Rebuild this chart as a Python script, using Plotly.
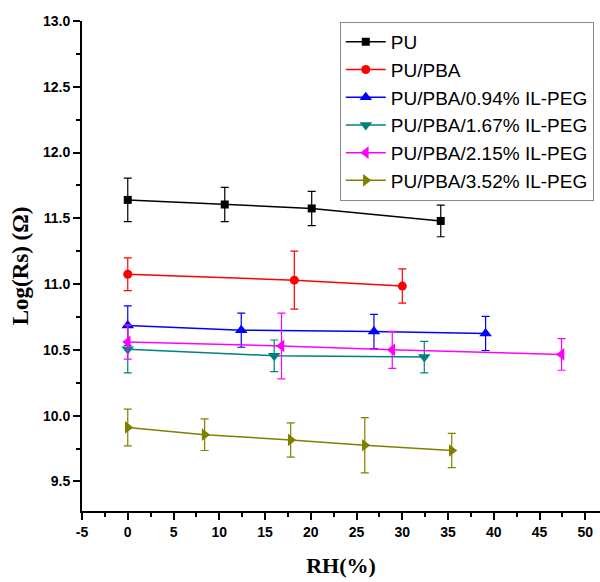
import plotly.graph_objects as go

# ---- data ----
names = ["PU", "PU/PBA", "PU/PBA/0.94% IL-PEG", "PU/PBA/1.67% IL-PEG",
         "PU/PBA/2.15% IL-PEG", "PU/PBA/3.52% IL-PEG"]

pu_x = [0, 10.6, 20.1, 34.2]
pu_y = [11.64, 11.605, 11.575, 11.48]
pu_e = [0.165, 0.13, 0.13, 0.12]

pba_x = [0, 18.2, 30.0]
pba_y = [11.075, 11.03, 10.985]
pba_e = [0.125, 0.22, 0.13]

p094_x = [0, 12.4, 26.9, 39.1]
p094_y = [10.685, 10.65, 10.64, 10.625]
p094_e = [0.15, 0.13, 0.13, 0.13]

p167_x = [0, 16.0, 32.4]
p167_y = [10.505, 10.455, 10.445]
p167_e = [0.18, 0.12, 0.12]

p215_x = [0, 16.8, 28.9, 47.4]
p215_y = [10.56, 10.53, 10.50, 10.465]
p215_e = [0.13, 0.25, 0.14, 0.12]

p352_x = [0, 8.4, 17.8, 25.9, 35.4]
p352_y = [9.91, 9.855, 9.815, 9.775, 9.735]
p352_e = [0.14, 0.12, 0.13, 0.21, 0.13]

series = [
    (pu_x, pu_y, pu_e, "#000000", "square", 8),
    (pba_x, pba_y, pba_e, "#FF0000", "circle", 9),
    (p094_x, p094_y, p094_e, "#0000FF", "triangle-up", 11),
    (p167_x, p167_y, p167_e, "#008080", "triangle-down", 11),
    (p215_x, p215_y, p215_e, "#FF00FF", "triangle-left", 11),
    (p352_x, p352_y, p352_e, "#808000", "triangle-right", 11),
]

x_ticks = list(range(-5, 51, 5))
y_ticks = [9.5, 10.0, 10.5, 11.0, 11.5, 12.0, 12.5, 13.0]
x_range = [-5, 51.6]
y_range = [9.275, 13.0]

fig = go.Figure()
for name, (xs, ys, es, col, sym, sz) in zip(names, series):
    fig.add_trace(go.Scatter(
        x=xs, y=ys, name=name, mode="lines+markers",
        line=dict(color=col, width=1.5),
        marker=dict(symbol=sym, size=sz, color=col),
        error_y=dict(type="data", array=es, visible=True, color=col,
                     thickness=1.2, width=4),
    ))

tickfont = dict(family="Liberation Sans, Arial", size=14, color="#000", weight="bold")
xtitlefont = dict(family="Liberation Serif, Times New Roman", size=22, color="#000", weight="bold")
ytitlefont = dict(family="Liberation Serif, Times New Roman", size=23, color="#000", weight="bold")

fig.update_layout(
    width=600, height=582,
    margin=dict(l=82, r=0, t=21, b=71),
    paper_bgcolor="white", plot_bgcolor="white",
    showlegend=True,
    legend=dict(
        x=0.988, y=0.998, xanchor="right", yanchor="top",
        bgcolor="white", bordercolor="#8a8a8a", borderwidth=1,
        font=dict(family="Liberation Sans, Arial", size=19, color="#000"),
        tracegroupgap=0, itemwidth=40,
    ),
    xaxis=dict(
        range=x_range, tickmode="array", tickvals=x_ticks,
        ticktext=[str(v) for v in x_ticks], automargin=False,
        showgrid=False, zeroline=False,
        showline=True, linecolor="#000", linewidth=2,
        ticks="outside", ticklen=7, tickwidth=2, tickcolor="#000",
        minor=dict(dtick=2.5, tick0=-5, ticks="outside", ticklen=4, tickwidth=1.5, tickcolor="#000"),
        tickfont=tickfont,
        title=dict(text="RH(%)", font=xtitlefont, standoff=19),
    ),
    yaxis=dict(
        range=y_range, tickmode="array", tickvals=y_ticks,
        ticktext=[f"{v:.1f}" for v in y_ticks], automargin=False,
        showgrid=False, zeroline=False,
        showline=True, linecolor="#000", linewidth=2,
        ticks="outside", ticklen=7, tickwidth=2, tickcolor="#000",
        minor=dict(dtick=0.25, tick0=9.5, ticks="outside", ticklen=4, tickwidth=1.5, tickcolor="#000"),
        tickfont=tickfont,
        title=dict(text="Log(Rs) (Ω)", font=ytitlefont, standoff=8),
    ),
    xaxis2=dict(
        overlaying="x", side="top", range=[0, 518.3], anchor="y", automargin=False,
        showgrid=False, zeroline=False, showticklabels=False,
        showline=True, linecolor="#000", linewidth=2,
        ticks="inside", tick0=0, dtick=101.6, ticklen=8, tickwidth=2, tickcolor="#000",
        minor=dict(dtick=50.8, tick0=0, ticks="inside", ticklen=4, tickwidth=1.5, tickcolor="#000"),
        fixedrange=True,
    ),
    yaxis2=dict(
        overlaying="y", side="right", range=[0, 5], anchor="x", automargin=False,
        showgrid=False, zeroline=False, showticklabels=False,
        showline=False,
        ticks="inside", tick0=0, dtick=1, ticklen=5, tickwidth=1.5, tickcolor="#000",
        minor=dict(dtick=0.5, tick0=0, ticks="inside", ticklen=3, tickwidth=1, tickcolor="#bbbbbb"),
        fixedrange=True,
    ),
)

fig.write_html("out.html")
